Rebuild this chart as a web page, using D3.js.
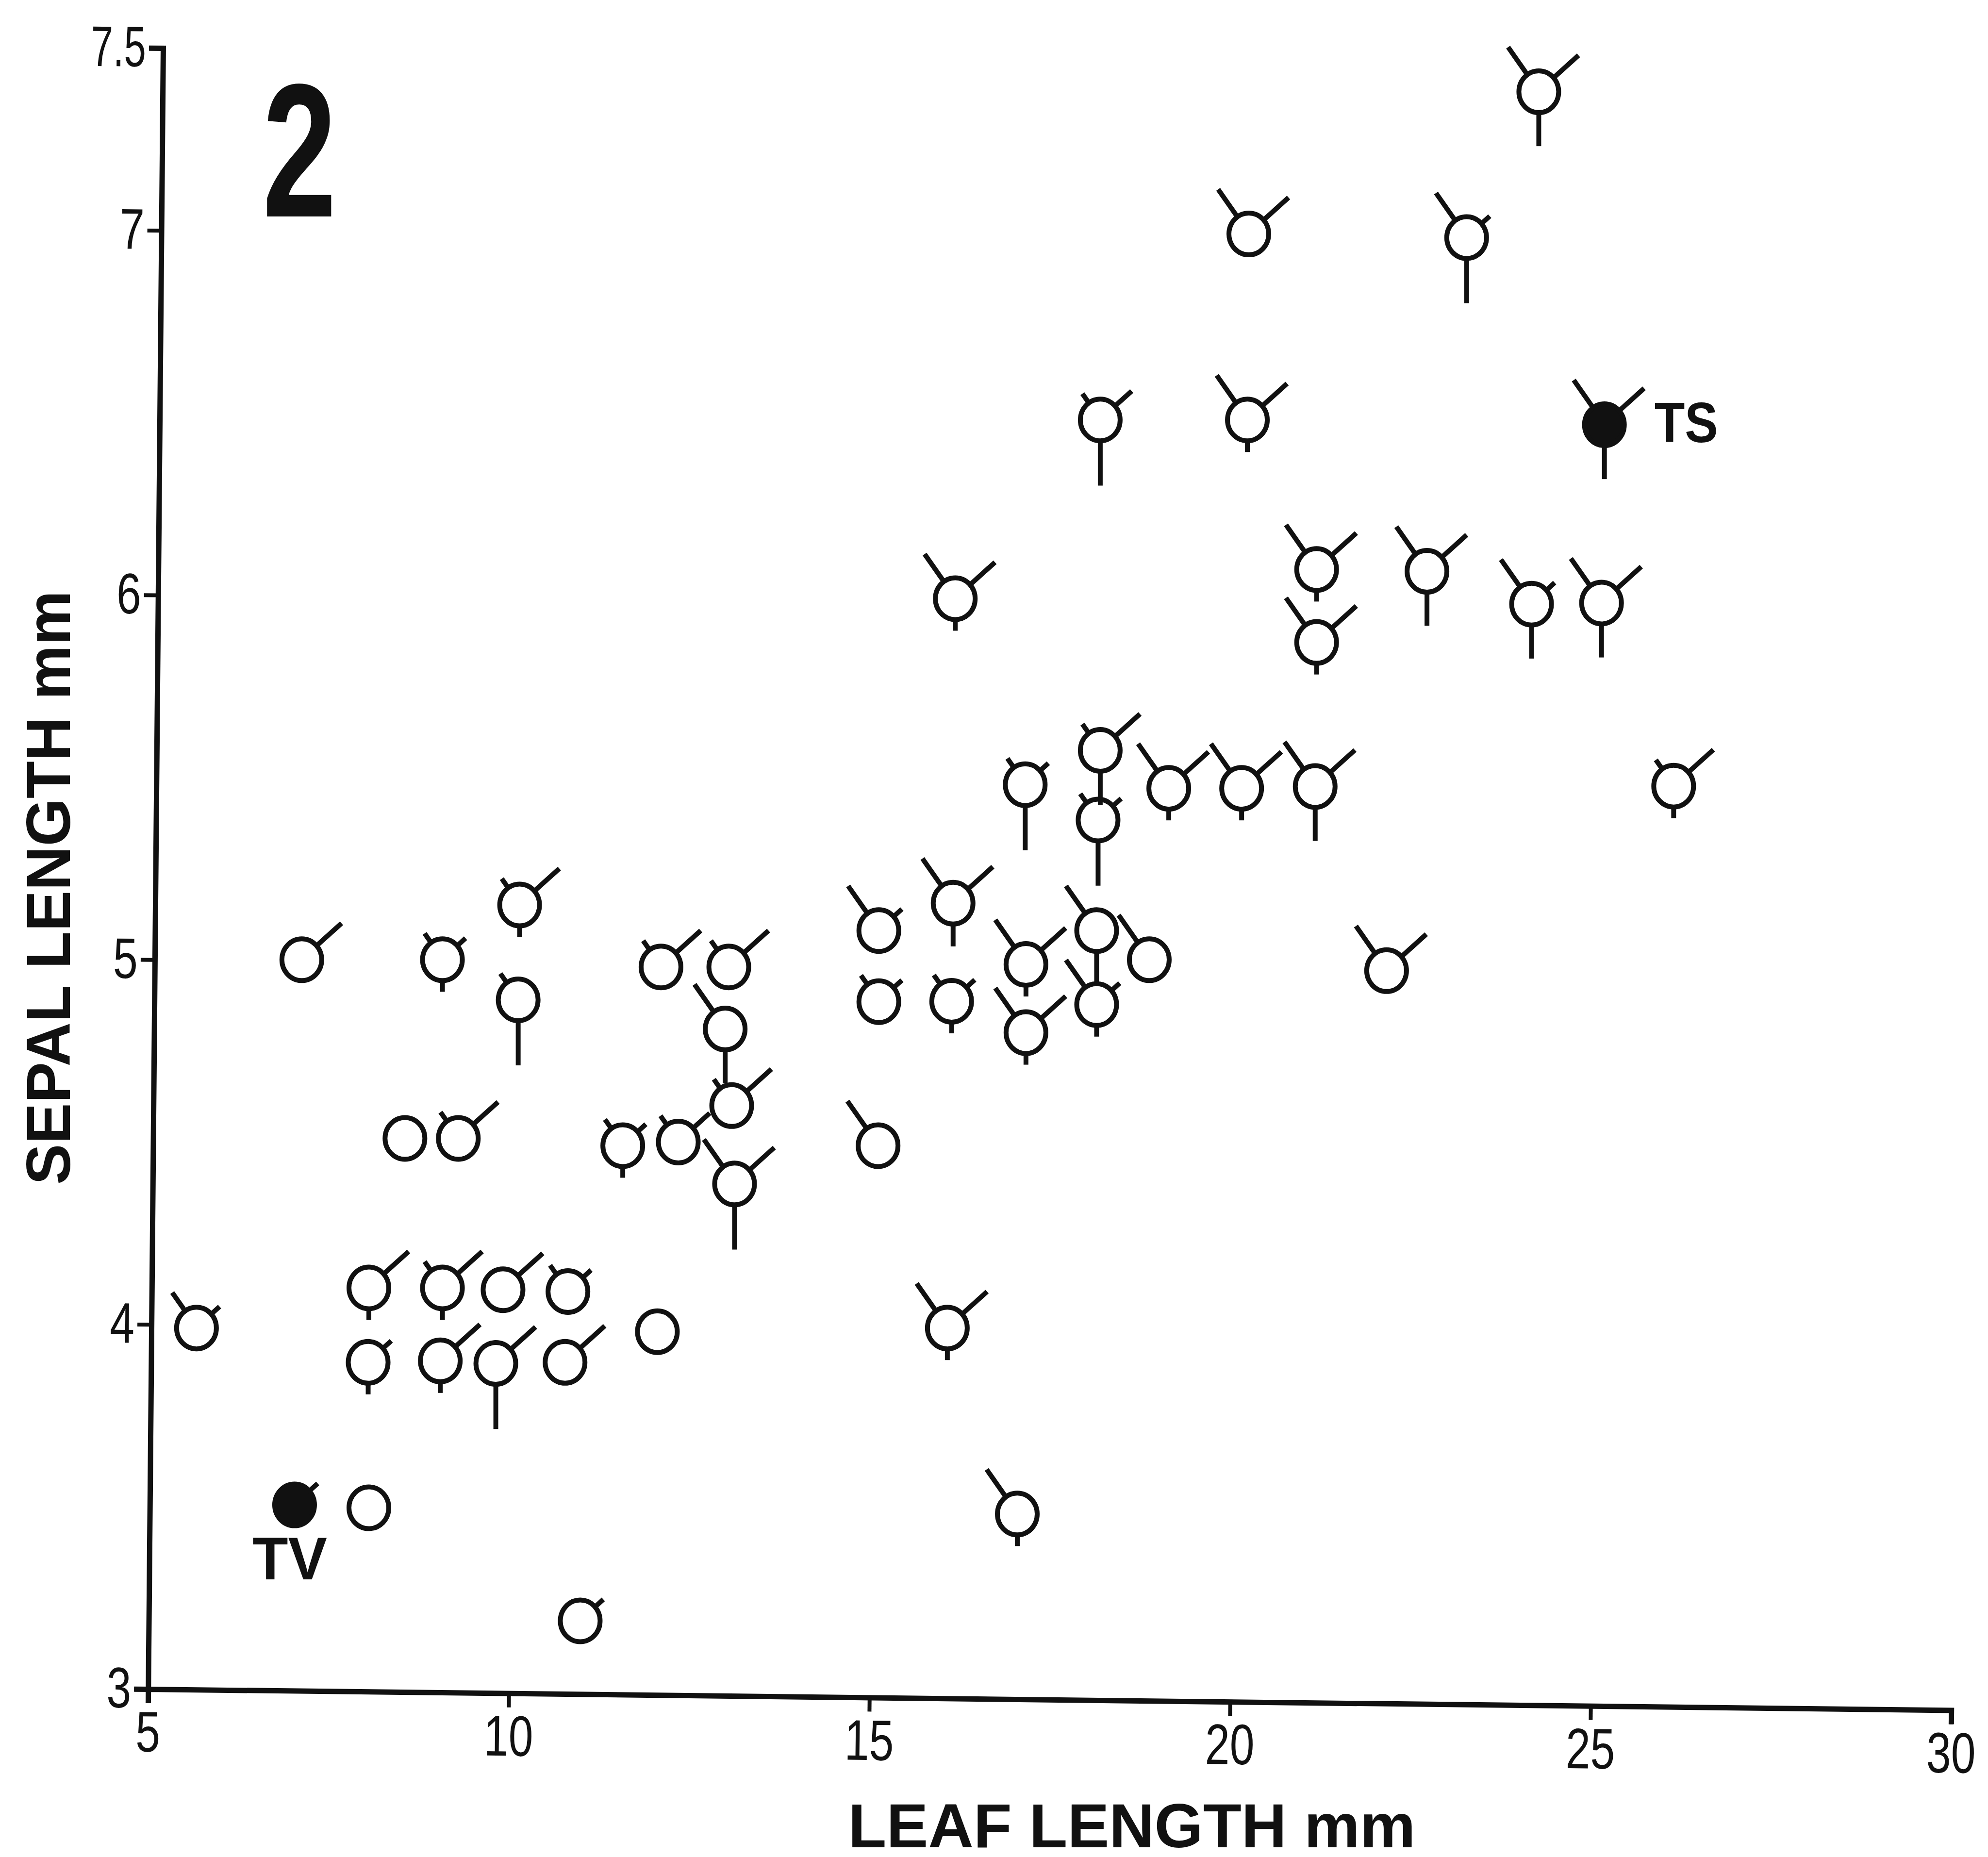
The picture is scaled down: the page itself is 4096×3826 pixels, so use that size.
<!DOCTYPE html>
<html>
<head>
<meta charset="utf-8">
<script src="https://cdn.jsdelivr.net/npm/d3@7"></script>
<style>
  html, body { margin: 0; padding: 0; background: #fff; }
  svg { display: block; }
  text { font-family: "Liberation Sans", Arial, sans-serif; fill: #111; }
</style>
</head>
<body>
<div class="chart-container"></div>
<script>
//! DATA
// open symbols
const leafLength = [7.13, 9.08, 10.15, 10.13, 12.11, 13.05, 13.0, 13.09, 12.35, 13.13,
  11.58, 8.56, 9.30, 15.12, 15.13, 16.16, 15.13, 16.14, 17.17, 17.17,
  5.67, 8.06, 9.08, 9.92, 10.82, 12.06, 16.08, 8.05, 9.05, 9.82,
  10.78, 8.06, 10.99, 17.05, 24.28, 20.26, 23.28, 18.2, 20.24, 16.19,
  21.2, 21.2, 22.73, 24.18, 25.15, 26.15, 18.2, 18.17, 19.15, 20.16,
  21.18, 17.16, 18.15, 18.15, 18.88, 22.17];
const sepalLength = [5.00, 5.00, 5.15, 4.89, 4.98, 4.98, 4.81, 4.60, 4.50, 4.385,
  4.49, 4.51, 4.51, 4.49, 5.08, 5.155, 4.885, 4.886, 4.987, 4.80,
  3.99, 4.10, 4.10, 4.095, 4.09, 3.98, 3.99, 3.896, 3.90, 3.893,
  3.896, 3.497, 3.187, 3.48, 7.38, 6.99, 6.98, 6.48, 6.48, 5.99,
  6.07, 5.87, 6.065, 5.975, 5.978, 5.476, 5.574, 5.383, 5.47, 5.47,
  5.475, 5.48, 5.08, 4.877, 5.0, 4.97];
// ray codes: 0 none, 1 short, 2 medium, 3 long, 4 very long
const rayLeft = [0, 1, 1, 1, 1, 1, 3, 1, 1, 3,
  1, 0, 1, 3, 3, 3, 1, 1, 3, 3,
  2, 0, 1, 0, 1, 0, 3, 0, 0, 0,
  0, 0, 0, 3, 3, 3, 3, 1, 3, 3,
  3, 3, 3, 3, 3, 1, 1, 1, 3, 3,
  3, 1, 3, 3, 3, 3];
const rayRight = [3, 1, 3, 0, 3, 3, 0, 3, 2, 3,
  1, 0, 3, 0, 1, 3, 1, 1, 3, 3,
  1, 3, 3, 3, 1, 0, 3, 1, 3, 3,
  3, 0, 1, 0, 3, 3, 1, 2, 3, 3,
  3, 3, 3, 1, 3, 3, 3, 1, 3, 3,
  3, 1, 0, 1, 0, 3];
const rayDown = [0, 1, 1, 4, 0, 0, 3, 0, 0, 4,
  1, 0, 0, 0, 0, 2, 0, 1, 1, 1,
  0, 1, 1, 0, 0, 0, 1, 1, 1, 4,
  0, 0, 0, 1, 3, 0, 4, 4, 1, 1,
  1, 1, 3, 3, 3, 1, 3, 4, 1, 1,
  3, 4, 3, 1, 0, 0];

// filled symbols (type specimens)
const typeNames = ['TV', 'TS'];
const typeLeaf = [7.03, 25.19];
const typeSepal = [3.505, 6.467];
const typeLeft = [0, 3];
const typeRight = [1, 3];
const typeDown = [0, 3];

const xTicks = [5, 10, 15, 20, 25, 30];
const yTicks = [3, 4, 5, 6, 7, 7.5];
const xTitle = 'LEAF LENGTH mm';
const yTitle = 'SEPAL LENGTH mm';
const panelNumber = '2';

//! CONSTS
const width = 4096;
const height = 3826;
const k = 0.96;
const ink = '#111';
const rx = 41, ry = 43;
const lineW = 10;
const leftAngle = 125 * Math.PI / 180;
const rightAngle = 42 * Math.PI / 180;

//! SVG
const svg = d3.select('.chart-container')
  .append('svg')
  .attr('width', width)
  .attr('height', height);

//! SCALES
const xScale = d3.scaleLinear().domain([5, 30]).range([318 * k, 4188 * k]);
const yScale = d3.scaleLinear().domain([3, 7.5]).range([3625 * k, 103 * k]);
const rayScale = d3.scaleLinear().domain([0, 4]).range([0, 96 * k]);

const x0 = xScale(5);
const yb = yScale(3);

//! AXES (the scan is turned a little, so the axes lean)
const fmt = (d) => String(d);
const labelLength = (t, fs) => {
  const digits = t.replace(/[^0-9]/g, '').length;
  const dots = t.length - digits;
  return (digits * 0.43 + dots * 0.1) * fs;
};

const xAxis = d3.axisBottom(xScale)
  .tickValues(xTicks)
  .tickFormat(fmt)
  .tickSize(29)
  .tickPadding(16);

const yAxis = d3.axisLeft(yScale)
  .tickValues(yTicks)
  .tickFormat(fmt)
  .tickSize(29)
  .tickPadding(6);

const gx = svg.append('g')
  .attr('transform', `translate(0,${yb}) rotate(0.67 ${x0} 0)`)
  .call(xAxis);

const gy = svg.append('g')
  .attr('transform', `translate(${x0},0) rotate(0.52 0 ${yb})`)
  .call(yAxis);

[gx, gy].forEach((g) => {
  g.select('.domain').attr('stroke', ink).attr('stroke-width', 11);
  g.selectAll('.tick line').attr('stroke', ink).attr('stroke-width', 8);
  g.selectAll('.tick text')
    .attr('font-family', '"Liberation Sans", Arial, sans-serif')
    .attr('font-size', 118)
    .attr('fill', '#222')
    .attr('lengthAdjust', 'spacingAndGlyphs')
    .attr('textLength', function () { return labelLength(this.textContent, 118); });
});

//! TITLES
svg.append('text')
  .attr('x', 2332)
  .attr('y', 3806)
  .attr('text-anchor', 'middle')
  .attr('font-size', 128)
  .attr('font-weight', 'bold')
  .attr('textLength', 1169)
  .attr('lengthAdjust', 'spacingAndGlyphs')
  .text(xTitle);

svg.append('text')
  .attr('transform', 'translate(144,1829) rotate(-90)')
  .attr('text-anchor', 'middle')
  .attr('font-size', 128)
  .attr('font-weight', 'bold')
  .attr('textLength', 1224)
  .attr('lengthAdjust', 'spacingAndGlyphs')
  .text(yTitle);

svg.append('text')
  .attr('transform', 'translate(617,446) scale(0.7,1)')
  .attr('text-anchor', 'middle')
  .attr('font-size', 392)
  .attr('font-weight', 'bold')
  .text(panelNumber);

//! GLYPHS
const openPoints = leafLength.map((d, i) => ({
  x: d, y: sepalLength[i], l: rayLeft[i], r: rayRight[i], dn: rayDown[i], filled: false
}));
const typePoints = typeNames.map((name, i) => ({
  x: typeLeaf[i], y: typeSepal[i], l: typeLeft[i], r: typeRight[i], dn: typeDown[i],
  filled: true, name
}));

const glyphs = svg.append('g')
  .selectAll('g.glyph')
  .data(openPoints.concat(typePoints))
  .enter()
  .append('g')
  .attr('class', 'glyph')
  .attr('transform', (d) => `translate(${xScale(d.x)},${yScale(d.y)})`);

const rays = (d) => {
  const out = [];
  if (d.l > 0) {
    const sx = rx * Math.cos(leftAngle), sy = -ry * Math.sin(leftAngle);
    const len = rayScale(d.l);
    out.push([sx, sy, sx + len * Math.cos(leftAngle), sy - len * Math.sin(leftAngle)]);
  }
  if (d.r > 0) {
    const sx = rx * Math.cos(rightAngle), sy = -ry * Math.sin(rightAngle);
    const len = rayScale(d.r);
    out.push([sx, sy, sx + len * Math.cos(rightAngle), sy - len * Math.sin(rightAngle)]);
  }
  if (d.dn > 0) {
    out.push([0, ry, 0, ry + rayScale(d.dn)]);
  }
  return out;
};

glyphs.selectAll('line')
  .data((d) => rays(d))
  .enter()
  .append('line')
  .attr('x1', (r) => r[0])
  .attr('y1', (r) => r[1])
  .attr('x2', (r) => r[2])
  .attr('y2', (r) => r[3])
  .attr('stroke', ink)
  .attr('stroke-width', lineW);

glyphs.append('ellipse')
  .attr('rx', rx)
  .attr('ry', ry)
  .attr('fill', (d) => d.filled ? ink : 'none')
  .attr('stroke', ink)
  .attr('stroke-width', lineW);

//! TYPE LABELS
svg.selectAll('text.type')
  .data(typePoints)
  .enter()
  .append('text')
  .attr('class', 'type')
  .attr('x', (d) => d.name === 'TS' ? xScale(d.x) + 103 : xScale(d.x) - 10)
  .attr('y', (d) => d.name === 'TS' ? yScale(d.y) + 36 : yScale(d.y) + 153)
  .attr('text-anchor', (d) => d.name === 'TS' ? 'start' : 'middle')
  .attr('font-size', (d) => d.name === 'TS' ? 116 : 124)
  .attr('font-weight', 'bold')
  .attr('textLength', (d) => d.name === 'TS' ? 131 : 154)
  .attr('lengthAdjust', 'spacingAndGlyphs')
  .text((d) => d.name);
</script>
</body>
</html>
